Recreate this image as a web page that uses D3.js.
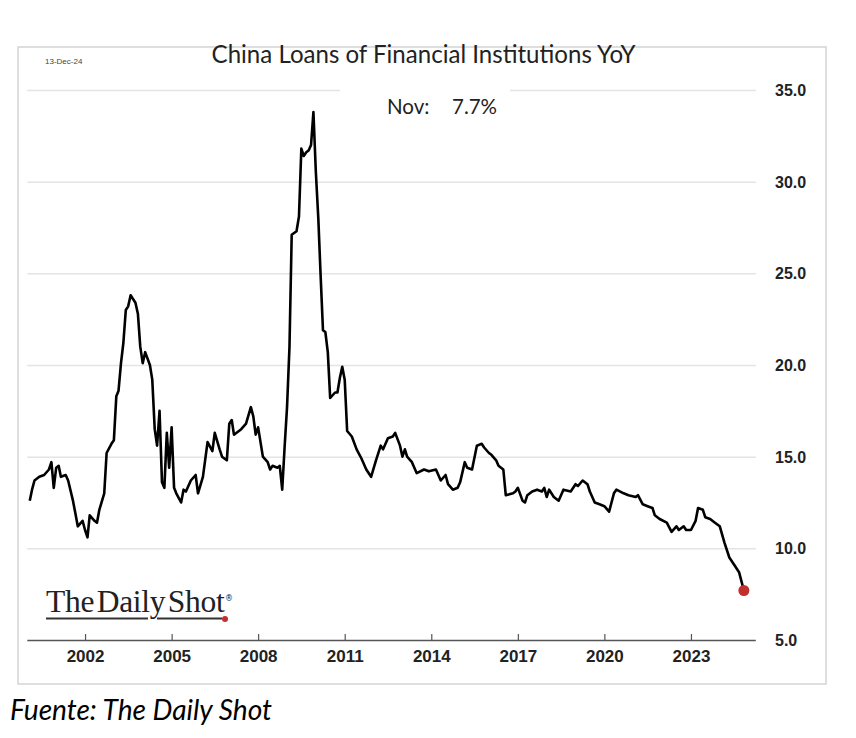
<!DOCTYPE html>
<html>
<head>
<meta charset="utf-8">
<script src="https://cdn.jsdelivr.net/npm/d3@7"></script>
<style>
  html, body { margin: 0; padding: 0; background: #fff; }
  svg { display: block; }
</style>
</head>
<body>
<svg id="chart" width="856" height="738"></svg>
<script>
// ---- data ----
const dates = [
 "2000-02","2000-03","2000-04","2000-06","2000-08","2000-10","2000-11","2000-12",
 "2001-01","2001-02","2001-03","2001-05","2001-06","2001-08","2001-09","2001-10","2001-12",
 "2002-01","2002-02","2002-03","2002-05","2002-06","2002-07","2002-09","2002-10","2002-12",
 "2003-01","2003-02","2003-03","2003-04","2003-05","2003-06","2003-07","2003-08","2003-10","2003-11","2003-12",
 "2004-01","2004-02","2004-04","2004-05","2004-06","2004-07","2004-08","2004-09","2004-10","2004-11","2004-12",
 "2005-01","2005-02","2005-03","2005-05","2005-06","2005-07","2005-09","2005-11","2005-12",
 "2006-02","2006-03","2006-04","2006-06","2006-07","2006-09","2006-10","2006-12",
 "2007-01","2007-02","2007-03","2007-06","2007-08","2007-10","2007-11","2007-12",
 "2008-01","2008-03","2008-05","2008-06","2008-07","2008-09","2008-10","2008-11","2008-12",
 "2009-01","2009-02","2009-03","2009-05","2009-06","2009-07","2009-08","2009-09","2009-10","2009-11","2009-12",
 "2010-01","2010-02","2010-03","2010-04","2010-05","2010-06","2010-07","2010-09","2010-10","2010-11","2010-12",
 "2011-01","2011-02","2011-04","2011-06","2011-08","2011-10","2011-12",
 "2012-02","2012-04","2012-05","2012-07","2012-09","2012-10","2012-12",
 "2013-01","2013-02","2013-03","2013-05","2013-07","2013-10","2013-12",
 "2014-03","2014-05","2014-07","2014-08","2014-10","2014-12",
 "2015-01","2015-03","2015-04","2015-06","2015-08","2015-10","2015-11",
 "2016-01","2016-02","2016-04","2016-05","2016-07","2016-08","2016-11","2016-12",
 "2017-01","2017-03","2017-04","2017-05","2017-07","2017-09","2017-11","2017-12",
 "2018-01","2018-02","2018-04","2018-06","2018-08","2018-11",
 "2019-01","2019-02","2019-04","2019-06","2019-07","2019-09","2019-11",
 "2020-01","2020-03","2020-05","2020-06","2020-09","2020-11",
 "2021-02","2021-03","2021-05","2021-07","2021-09","2021-10","2021-12",
 "2022-03","2022-05","2022-07","2022-08","2022-10","2022-11",
 "2023-01","2023-03","2023-04","2023-06","2023-07","2023-09","2023-11",
 "2024-01","2024-03","2024-05","2024-07","2024-09","2024-11"
];
const values = [
 12.6,13.2,13.7,13.9,14.0,14.3,14.7,13.3,
 14.4,14.5,13.9,14.0,13.7,12.6,11.9,11.2,11.5,
 11.0,10.6,11.8,11.5,11.4,12.1,13.0,15.2,15.7,
 15.9,18.3,18.6,20.1,21.2,23.0,23.2,23.8,23.4,22.8,21.0,
 20.1,20.7,20.0,19.2,16.5,15.6,17.5,13.6,13.3,16.3,14.4,
 16.6,13.3,13.0,12.5,13.2,13.1,13.7,14.0,13.0,
 13.9,14.8,15.8,15.3,16.3,15.4,15.0,14.8,
 16.8,17.0,16.2,16.5,16.8,17.7,17.2,16.2,
 16.6,15.0,14.7,14.3,14.5,14.4,14.5,13.2,15.5,
 17.7,21.0,27.1,27.3,28.1,31.8,31.4,31.6,31.7,32.0,33.8,
 30.5,28.0,25.0,21.9,21.8,20.7,18.2,18.5,18.5,19.3,19.9,
 19.2,16.4,16.1,15.4,14.9,14.3,13.9,
 14.8,15.6,15.4,16.0,16.1,16.3,15.6,
 15.0,15.4,15.0,14.7,14.1,14.3,14.2,
 14.3,13.7,14.0,13.5,13.2,13.3,
 13.6,14.7,14.4,14.3,15.6,15.7,15.5,
 15.2,15.1,14.8,14.5,14.3,12.9,13.0,13.1,
 13.3,12.6,12.5,12.9,13.1,13.2,13.1,13.3,
 12.8,13.2,12.8,12.6,13.2,13.1,
 13.5,13.4,13.7,13.5,13.1,12.5,12.4,
 12.3,12.0,13.0,13.2,13.0,12.9,
 12.8,12.9,12.4,12.3,12.2,11.8,11.6,
 11.4,10.9,11.2,11.0,11.2,11.0,
 11.0,11.5,12.2,12.1,11.7,11.6,11.4,
 11.2,10.3,9.5,9.1,8.7,7.7
];
const xTickYears = [2002, 2005, 2008, 2011, 2014, 2017, 2020, 2023];
const yTicks = [5, 10, 15, 20, 25, 30, 35];
const titleText = "China Loans of Financial Institutions YoY";
const dateStamp = "13-Dec-24";
const lastLabel = "Nov:";
const lastValueText = "7.7%";
const sourceText = "Fuente: The Daily Shot";
const logoText = "The Daily Shot";

// ---- build ----
const parse = d3.timeParse("%Y-%m");
const data = dates.map((d, i) => ({ date: parse(d), value: values[i] }));

const svg = d3.select("#chart");

const x = d3.scaleTime()
  .domain([new Date(2000, 0, 1), new Date(2025, 3, 1)])
  .range([27.3, 755.8]);
const y = d3.scaleLinear().domain([5, 35]).range([640, 90]);

function fit(sel, w) {
  const l = sel.node().getComputedTextLength();
  const fs = parseFloat(sel.attr("font-size"));
  sel.attr("font-size", (fs * w / l).toFixed(2));
}

// frame
svg.append("rect")
  .attr("x", 18).attr("y", 47).attr("width", 808).attr("height", 637)
  .attr("fill", "#fff").attr("stroke", "#d4d4d4").attr("stroke-width", 1.5);

// grid lines (right axis)
const yAxis = d3.axisRight(y)
  .tickValues(yTicks)
  .tickSize(x.range()[1] - x.range()[0])
  .tickFormat(d3.format(".1f"));
const gy = svg.append("g")
  .attr("transform", `translate(${x.range()[0]},0)`)
  .call(yAxis);
gy.select(".domain").remove();
gy.selectAll(".tick line")
  .attr("stroke", d => d === 5 ? "#555" : "#e4e4e4")
  .attr("stroke-width", d => d === 5 ? 1.4 : 1.5);
gy.selectAll(".tick text")
  .attr("x", 775 - x.range()[0])
  .attr("dy", "0.35em")
  .attr("font-family", "'Liberation Sans', Arial, sans-serif")
  .attr("font-weight", "bold")
  .attr("font-size", 16)
  .attr("fill", "#222");

// x axis
const xAxis = d3.axisBottom(x)
  .tickValues(xTickYears.map(yr => new Date(yr, 0, 1)))
  .tickSize(0)
  .tickFormat(d3.timeFormat("%Y"));
const gx = svg.append("g")
  .attr("transform", `translate(0,${y(5)})`)
  .call(xAxis);
gx.select(".domain").remove();
gx.selectAll(".tick").append("line")
  .attr("y1", -6).attr("y2", 0)
  .attr("stroke", "#555").attr("stroke-width", 1.2);
gx.selectAll(".tick text")
  .attr("y", 22)
  .attr("dy", 0)
  .attr("font-family", "'Liberation Sans', Arial, sans-serif")
  .attr("font-weight", "bold")
  .attr("font-size", 17)
  .attr("fill", "#222");

// label box covering the top grid line
svg.append("rect")
  .attr("x", 340).attr("y", 80).attr("width", 170).attr("height", 40)
  .attr("fill", "#fff");

// line
const line = d3.line().x(d => x(d.date)).y(d => y(d.value));
svg.append("path")
  .datum(data)
  .attr("d", line)
  .attr("fill", "none")
  .attr("stroke", "#000")
  .attr("stroke-width", 2.6)
  .attr("stroke-linejoin", "round");

// last point
const last = data[data.length - 1];
svg.append("circle")
  .attr("cx", x(last.date)).attr("cy", y(last.value))
  .attr("r", 5.5).attr("fill", "#c0302f");

// title
const title = svg.append("text")
  .attr("x", 423.5).attr("y", 63)
  .attr("text-anchor", "middle")
  .attr("font-family", "Lato, 'Open Sans', sans-serif")
  .attr("font-size", 21)
  .attr("fill", "#222")
  .text(titleText);
fit(title, 424);

svg.append("text")
  .attr("x", 45).attr("y", 64)
  .attr("font-family", "'Liberation Sans', Arial, sans-serif")
  .attr("font-size", 8)
  .attr("fill", "#444")
  .text(dateStamp);

// last value label
svg.append("text")
  .attr("x", 387).attr("y", 114)
  .attr("font-family", "Lato, 'Open Sans', sans-serif")
  .attr("font-size", 20.5)
  .attr("fill", "#222")
  .text(lastLabel);
svg.append("text")
  .attr("x", 452).attr("y", 114)
  .attr("font-family", "Lato, 'Open Sans', sans-serif")
  .attr("font-size", 20.5)
  .attr("fill", "#222")
  .text(lastValueText);

// logo
const logo = svg.append("text")
  .attr("x", 46).attr("y", 612)
  .attr("font-family", "'Liberation Serif', 'DejaVu Serif', serif")
  .attr("font-size", 27)
  .attr("fill", "#222")
  .attr("word-spacing", -5)
  .attr("letter-spacing", -0.3)
  .text(logoText);
fit(logo, 176);
svg.append("line")
  .attr("x1", 46).attr("x2", 148).attr("y1", 618.5).attr("y2", 618.5)
  .attr("stroke", "#333").attr("stroke-width", 2);
svg.append("line")
  .attr("x1", 157).attr("x2", 222).attr("y1", 618.5).attr("y2", 618.5)
  .attr("stroke", "#333").attr("stroke-width", 2);
svg.append("circle")
  .attr("cx", 225).attr("cy", 619).attr("r", 3).attr("fill", "#c0302f");
svg.append("text")
  .attr("x", 225).attr("y", 601)
  .attr("font-family", "'DejaVu Sans', sans-serif")
  .attr("font-size", 8)
  .attr("fill", "#222")
  .text("®");

// source
const src = svg.append("text")
  .attr("x", 10).attr("y", 720)
  .attr("font-family", "Lato, 'Open Sans', sans-serif")
  .attr("font-style", "italic")
  .attr("font-size", 24)
  .attr("fill", "#000")
  .text(sourceText);
fit(src, 262);
</script>
</body>
</html>
